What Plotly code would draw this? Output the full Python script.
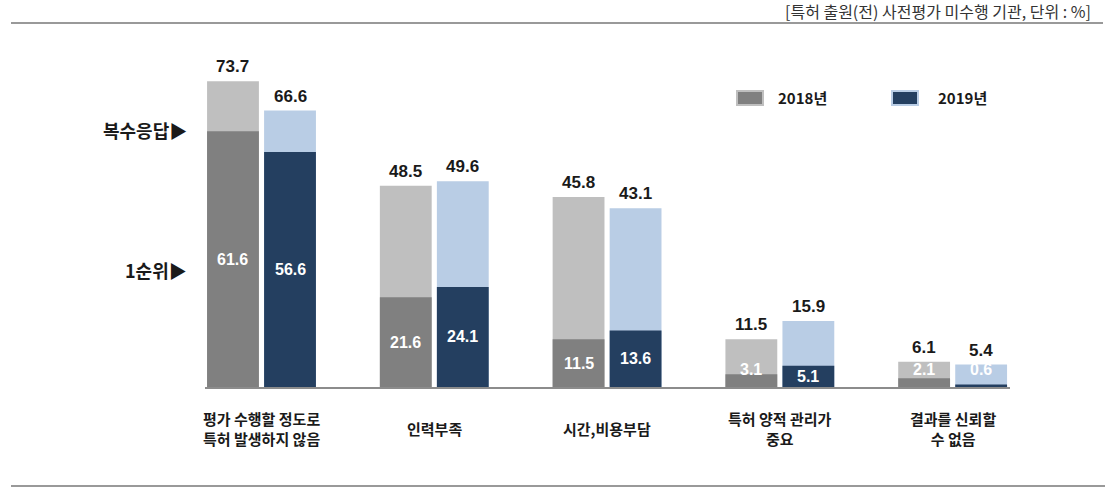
import plotly.graph_objects as go

categories = ["평가 수행할 정도로<br>특허 발생하지 않음", "인력부족", "시간,비용부담", "특허 양적 관리가<br>중요", "결과를 신뢰할<br>수 없음"]
total_2018 = [73.7, 48.5, 45.8, 11.5, 6.1]
first_2018 = [61.6, 21.6, 11.5, 3.1, 2.1]
total_2019 = [66.6, 49.6, 43.1, 15.9, 5.4]
first_2019 = [56.6, 24.1, 13.6, 5.1, 0.6]

C18_LIGHT, C18_DARK = "#bfbfbf", "#808080"
C19_LIGHT, C19_DARK = "#b9cde5", "#243f60"

W, H = 1110, 495
L, R, T, B = 205, 100, 55, 108
PW, PH = W - L - R, H - T - B

def px2x(px):
    return (px - L) / PW

def py2y(py):
    return (H - B - py) / PH

OFF, BW = 0.165, 0.30
idx = list(range(len(categories)))
x18 = [i - OFF for i in idx]
x19 = [i + OFF for i in idx]

fig = go.Figure()
fig.add_trace(go.Bar(x=x18, y=total_2018, width=BW, marker=dict(color=C18_LIGHT, line=dict(width=0)), showlegend=False, hoverinfo="skip"))
fig.add_trace(go.Bar(x=x18, y=first_2018, width=BW, marker=dict(color=C18_DARK, line=dict(width=0)), showlegend=False))
fig.add_trace(go.Bar(x=x19, y=total_2019, width=BW, marker=dict(color=C19_LIGHT, line=dict(width=0)), showlegend=False, hoverinfo="skip"))
fig.add_trace(go.Bar(x=x19, y=first_2019, width=BW, marker=dict(color=C19_DARK, line=dict(width=0)), showlegend=False))

NUMFONT = "Liberation Sans Narrow, Arial Narrow, Liberation Sans, Arial"
KFONT = "Noto Sans CJK KR, Malgun Gothic, sans-serif"
ann = []
for xs, tots, firsts in ((x18, total_2018, first_2018), (x19, total_2019, first_2019)):
    for x, t, f in zip(xs, tots, firsts):
        ann.append(dict(x=x, y=t, xref="x", yref="y", text=f"<b>{t}</b>", showarrow=False,
                        yanchor="bottom", yshift=3, font=dict(family=NUMFONT, size=17, color="#1a1a1a")))
        ly = f / 2 if f >= 4 else 4.2
        ann.append(dict(x=x, y=ly, xref="x", yref="y", text=f"<b>{f}</b>", showarrow=False,
                        yanchor="middle", font=dict(family=NUMFONT, size=16, color="#ffffff")))

for i, c in enumerate(categories):
    ann.append(dict(x=i, y=py2y(428), xref="x", yref="paper", text=f"<b>{c}</b>", showarrow=False,
                    yanchor="middle", xanchor="center", align="center",
                    font=dict(family=KFONT, size=15, color="#1a1a1a")))

# left row labels
ann.append(dict(x=px2x(189), y=py2y(130), xref="paper", yref="paper", text="<b>복수응답▶</b>", showarrow=False,
                xanchor="right", yanchor="middle", font=dict(family=KFONT, size=18, color="#1a1a1a")))
ann.append(dict(x=px2x(189), y=py2y(270), xref="paper", yref="paper", text="<b>1순위▶</b>", showarrow=False,
                xanchor="right", yanchor="middle", font=dict(family=KFONT, size=18, color="#1a1a1a")))

# header
ann.append(dict(x=px2x(1093), y=py2y(11), xref="paper", yref="paper", text="[특허 출원(전) 사전평가 미수행 기관, 단위 : %]",
                showarrow=False, xanchor="right", yanchor="middle", font=dict(family=KFONT, size=16, color="#333333")))

# legend
legend_items = [("2018년", C18_DARK, C18_LIGHT, 737, 776), ("2019년", C19_DARK, C19_LIGHT, 892, 936)]
shapes = []
for name, fill, border, sx, tx in legend_items:
    shapes.append(dict(type="rect", xref="paper", yref="paper", x0=px2x(sx), x1=px2x(sx + 26),
                       y0=py2y(105), y1=py2y(91), fillcolor=fill, line=dict(color=border, width=2)))
    ann.append(dict(x=px2x(tx), y=py2y(98), xref="paper", yref="paper", text=f"<b>{name}</b>", showarrow=False,
                    xanchor="left", yanchor="middle", font=dict(family=KFONT, size=15, color="#1a1a1a")))

shapes.append(dict(type="line", xref="paper", yref="paper", x0=px2x(11), x1=px2x(1103), y0=py2y(23), y1=py2y(23),
                   line=dict(color="#999999", width=2)))
shapes.append(dict(type="line", xref="paper", yref="paper", x0=px2x(11), x1=px2x(1105), y0=py2y(486), y1=py2y(486),
                   line=dict(color="#999999", width=2)))

fig.update_layout(
    width=W, height=H, barmode="overlay",
    margin=dict(l=L, r=R, t=T, b=B, autoexpand=False),
    paper_bgcolor="white", plot_bgcolor="white",
    xaxis=dict(range=[-0.327, 4.332], showticklabels=False, showgrid=False, zeroline=False,
               showline=True, linecolor="#8c8c8c", linewidth=2, ticks="", fixedrange=True),
    yaxis=dict(range=[0, 80], visible=False, showgrid=False, zeroline=False, fixedrange=True),
    annotations=ann, shapes=shapes, showlegend=False,
)

# remove the browser's default 8px body margin so the figure sits at the page origin
fig.write_html("out.html", config={"displayModeBar": False},
               post_script="document.body.style.margin='0';")
